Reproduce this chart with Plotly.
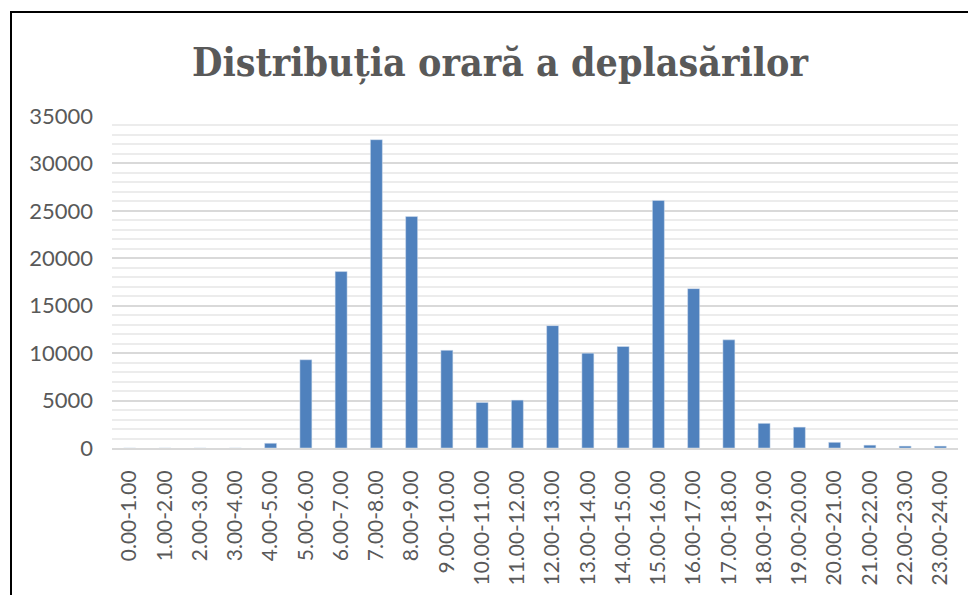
import plotly.graph_objects as go

categories = ["0.00-1.00", "1.00-2.00", "2.00-3.00", "3.00-4.00", "4.00-5.00", "5.00-6.00",
              "6.00-7.00", "7.00-8.00", "8.00-9.00", "9.00-10.00", "10.00-11.00", "11.00-12.00",
              "12.00-13.00", "13.00-14.00", "14.00-15.00", "15.00-16.00", "16.00-17.00",
              "17.00-18.00", "18.00-19.00", "19.00-20.00", "20.00-21.00", "21.00-22.00",
              "22.00-23.00", "23.00-24.00"]
trips = [0, 0, 0, 0, 500, 9300, 18600, 32500, 24400, 10300, 4800, 5050,
         12900, 10000, 10700, 26100, 16800, 11400, 2600, 2200, 600, 300, 200, 200]
y_ticks = [0, 5000, 10000, 15000, 20000, 25000, 30000, 35000]

# page body has an 8px margin, so the figure is sized to fit the window
W, H = 968, 587
L, R, T, B = 104, 18, 108, 147
PW, PH = W - L - R, H - T - B

fig = go.Figure(go.Bar(
    x=categories, y=trips,
    marker=dict(color="#4f81bd", line=dict(color="#dbe5f1", width=0.5)),
    width=0.34,
))

fig.update_layout(
    width=W, height=H,
    margin=dict(l=L, r=R, t=T, b=B, autoexpand=False),
    paper_bgcolor="white", plot_bgcolor="white",
    showlegend=False,
    title=dict(text="<b>Distribuția orară a deplasărilor</b>",
               xref="container", x=492 / W, xanchor="center",
               y=1 - 54 / H, yanchor="middle",
               font=dict(family="DejaVu Serif Condensed, Liberation Serif, serif",
                         size=39, color="#595959")),
    font=dict(family="Lato, Liberation Sans, sans-serif", color="#595959"),
)

fig.update_yaxes(
    automargin=False,
    range=[0, 35000], tickvals=y_ticks, ticktext=[str(v) for v in y_ticks],
    showgrid=True, gridcolor="#d9d9d9", gridwidth=2,
    minor=dict(dtick=1000, showgrid=True, gridcolor="#ececec", gridwidth=2),
    zeroline=False, showline=False,
    tickfont=dict(size=22, color="#595959"),
    ticklabelstandoff=18,
)
fig.update_xaxes(
    automargin=False,
    type="category", range=[-0.5, 23.5],
    tickangle=-90, tickfont=dict(size=21, color="#595959"),
    showline=True, linecolor="#d9d9d9", linewidth=2,
    showgrid=False, ticklabelstandoff=12,
)

# outer chart border (only left and top edges fall inside the window)
fig.add_shape(type="rect", xref="paper", yref="paper",
              x0=(3 - L) / PW, x1=(W + 60 - L) / PW,
              y0=-(B + 60) / PH, y1=1 + (T - 4) / PH,
              line=dict(color="black", width=2), fillcolor="rgba(0,0,0,0)", layer="above")

fig.write_html("out.html")
